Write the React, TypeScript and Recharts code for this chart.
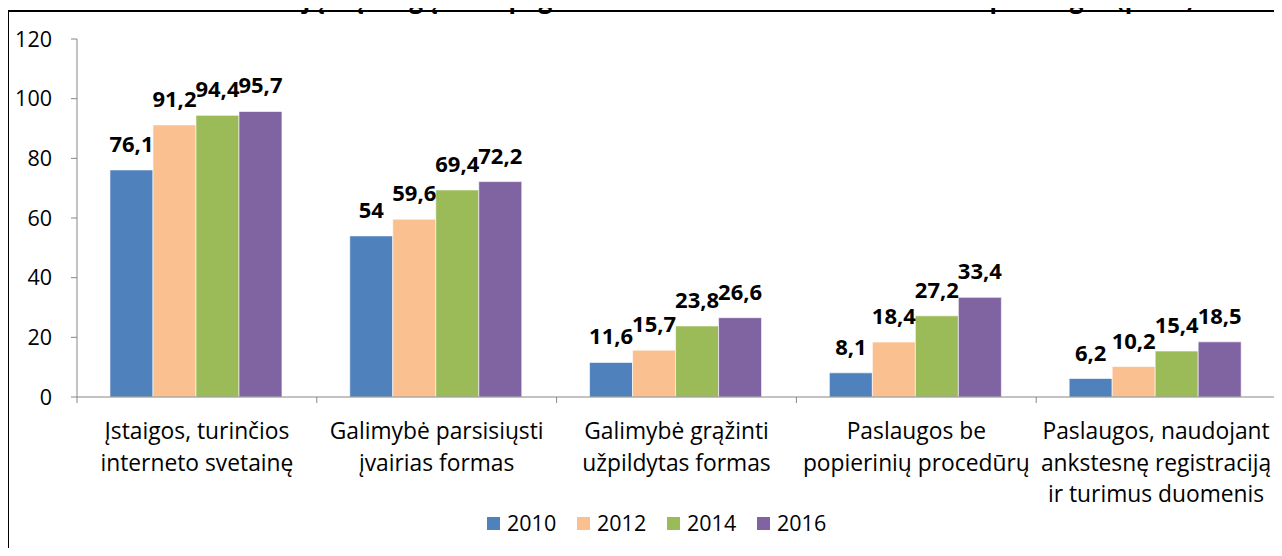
import { BarChart, Bar, XAxis, YAxis, LabelList } from 'recharts';

const categories = [
  'Įstaigos, turinčios\ninterneto svetainę',
  'Galimybė parsisiųsti\nįvairias formas',
  'Galimybė grąžinti\nužpildytas formas',
  'Paslaugos be\npopierinių procedūrų',
  'Paslaugos, naudojant\nankstesnę registraciją\nir turimus duomenis',
];

const years = ['2010', '2012', '2014', '2016'];
const values2010 = [76.1, 54, 11.6, 8.1, 6.2];
const values2012 = [91.2, 59.6, 15.7, 18.4, 10.2];
const values2014 = [94.4, 69.4, 23.8, 27.2, 15.4];
const values2016 = [95.7, 72.2, 26.6, 33.4, 18.5];
const yTicks = [0, 20, 40, 60, 80, 100, 120];

const colors = ['#4f81bd', '#fac090', '#9bbb59', '#8064a2'];

const data = categories.map((name, i) => ({
  name,
  y2010: values2010[i],
  y2012: values2012[i],
  y2014: values2014[i],
  y2016: values2016[i],
}));

const FONT = '"Open Sans", Lato, sans-serif';
const AXIS_COLOR = '#868686';
const PLOT_LEFT = 77;
const PLOT_RIGHT = 1276;
const AXIS_Y = 397;
const BAND = (PLOT_RIGHT - PLOT_LEFT) / categories.length;

const fmt = (v: any) => String(v).replace('.', ',');

function CategoryTick(props: any) {
  const { x, payload, index } = props;
  const lines: string[] = String(payload.value).split('\n');
  const left = x - BAND / 2;
  return (
    <g>
      <line x1={left} y1={AXIS_Y} x2={left} y2={AXIS_Y + 6} stroke={AXIS_COLOR} />
      {index === categories.length - 1 && (
        <line x1={x + BAND / 2} y1={AXIS_Y} x2={x + BAND / 2} y2={AXIS_Y + 6} stroke={AXIS_COLOR} />
      )}
      <text textAnchor="middle" fontFamily={FONT} fontSize={22.8} fill="#000">
        {lines.map((l, i) => (
          <tspan key={i} x={x} y={439 + i * 31.5}>{l}</tspan>
        ))}
      </text>
    </g>
  );
}

export default function App() {
  return (
    <div style={{ position: 'relative', margin: -8, width: 1282, height: 556, overflow: 'hidden', background: '#fff' }}>
      <div style={{ position: 'absolute', left: 0, top: 0 }}>
        <BarChart
          width={1282}
          height={556}
          data={data}
          margin={{ top: 39, right: 1282 - PLOT_RIGHT, bottom: 0, left: 0 }}
          barCategoryGap="13.75%"
          barGap={0}
        >
          <YAxis
            width={PLOT_LEFT}
            domain={[0, 120]}
            ticks={yTicks}
            interval={0}
            axisLine={{ stroke: AXIS_COLOR }}
            tickLine={{ stroke: AXIS_COLOR }}
            tickSize={6}
            tickMargin={19}
            tick={{ fontFamily: FONT, fontSize: 21.5, fill: '#000' }}
          />
          <XAxis
            dataKey="name"
            height={556 - AXIS_Y}
            interval={0}
            axisLine={{ stroke: AXIS_COLOR }}
            tickLine={false}
            tick={<CategoryTick />}
          />
          {years.map((yr, i) => (
            <Bar
              key={yr}
              dataKey={`y${yr}`}
              name={yr}
              fill={colors[i]}
              stroke="#ffffff"
              strokeOpacity={0.6}
              strokeWidth={1}
              isAnimationActive={false}
            >
              <LabelList
                dataKey={`y${yr}`}
                position="top"
                offset={18}
                formatter={fmt}
                style={{ fontFamily: FONT, fontWeight: 'bold', fontSize: 22, fill: '#000' }}
              />
            </Bar>
          ))}
        </BarChart>
      </div>
      <svg width={1282} height={556} style={{ position: 'absolute', left: 0, top: 0, pointerEvents: 'none' }}>
        <text x={698} y={7.5} textAnchor="middle" fontFamily={FONT} fontWeight="bold" fontSize={24.3} fill="#000">
          Institucijų ir įstaigų dalis pagal internetu teikiamas elektronines paslaugas (proc.)
        </text>
        <line x1={0} y1={11} x2={1282} y2={11} stroke="#000" strokeWidth={2} />
        <line x1={8} y1={10} x2={8} y2={556} stroke="#000" strokeWidth={2} />
      </svg>
      <div
        style={{
          position: 'absolute',
          left: 487,
          top: 509,
          display: 'flex',
          fontFamily: FONT,
          fontSize: 21.5,
          lineHeight: '28px',
          color: '#000',
        }}
      >
        {years.map((yr, i) => (
          <div key={yr} style={{ display: 'flex', alignItems: 'center', width: 90 }}>
            <span
              style={{
                display: 'inline-block',
                width: 13,
                height: 13,
                background: colors[i],
                marginRight: 7,
              }}
            />
            <span>{yr}</span>
          </div>
        ))}
      </div>
    </div>
  );
}
